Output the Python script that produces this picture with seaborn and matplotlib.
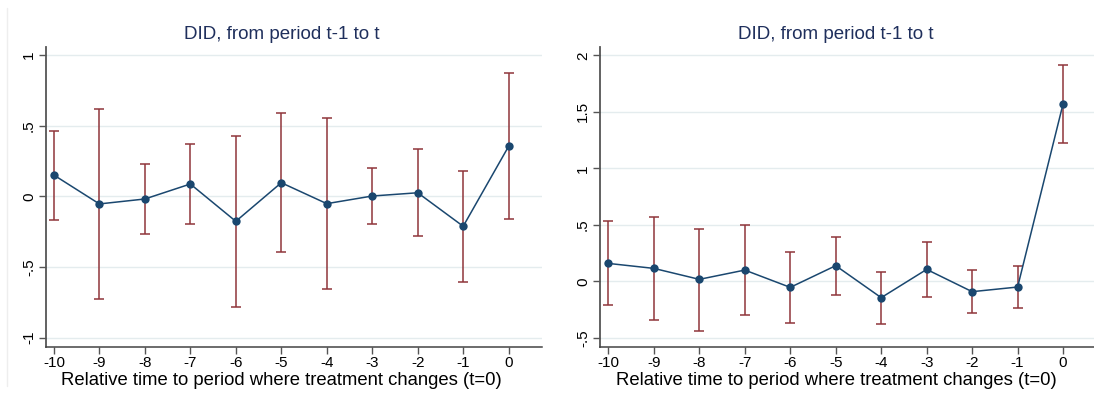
import numpy as np
import pandas as pd
import matplotlib
matplotlib.use("Agg")
import matplotlib.pyplot as plt
import seaborn as sns
from matplotlib.lines import Line2D

# relative time to treatment change
periods = [-10, -9, -8, -7, -6, -5, -4, -3, -2, -1, 0]

# left panel: point estimates and 95% CI
left_coef = [0.150, -0.054, -0.019, 0.087, -0.177, 0.096, -0.052, 0.002, 0.025, -0.212, 0.354]
left_lo = [-0.165, -0.726, -0.264, -0.196, -0.783, -0.396, -0.656, -0.194, -0.283, -0.606, -0.160]
left_hi = [0.464, 0.617, 0.226, 0.372, 0.426, 0.591, 0.551, 0.198, 0.332, 0.179, 0.870]

# right panel
right_coef = [0.159, 0.115, 0.018, 0.100, -0.053, 0.139, -0.144, 0.106, -0.091, -0.050, 1.571]
right_lo = [-0.212, -0.342, -0.439, -0.301, -0.371, -0.118, -0.374, -0.139, -0.277, -0.236, 1.226]
right_hi = [0.531, 0.572, 0.466, 0.501, 0.262, 0.395, 0.085, 0.351, 0.097, 0.139, 1.916]

left_yticks = [-1, -0.5, 0, 0.5, 1]
left_ylabels = ["-1", "-.5", "0", ".5", "1"]
right_yticks = [-0.5, 0, 0.5, 1, 1.5, 2]
right_ylabels = ["-.5", "0", ".5", "1", "1.5", "2"]

title = "DID, from period t-1 to t"
xlabel = "Relative time to period where treatment changes (t=0)"

NAVY = "#1a476f"
MAROON = "#90353b"
TITLE_C = "#1f2f5c"
GRID_C = "#e4ecee"

sns.set_style("white")
plt.rcParams["font.family"] = ["Liberation Sans", "DejaVu Sans"]

fig = plt.figure(figsize=(10.94, 3.94), dpi=100)
ax1 = fig.add_axes([0.0418, 0.120, 0.4533, 0.7614])
ax2 = fig.add_axes([0.5482, 0.120, 0.4518, 0.7614])


def draw_panel(ax, coef, lo, hi, yticks, ylabels, ylim, xlim, cx):
    df = pd.DataFrame({"t": periods, "b": coef, "lo": lo, "hi": hi})
    for y in yticks:
        ax.axhline(y, color=GRID_C, lw=1.0, zorder=0)
    ax.errorbar(df["t"], df["b"],
                yerr=[df["b"] - df["lo"], df["hi"] - df["b"]],
                fmt="none", ecolor=MAROON, elinewidth=1.1, capsize=3.5,
                capthick=1.1, zorder=2)
    sns.lineplot(data=df, x="t", y="b", ax=ax, color=NAVY, lw=1.1,
                 marker="o", markersize=6, markeredgewidth=0,
                 markerfacecolor=NAVY, zorder=3)
    ax.set_xlim(*xlim)
    ax.set_ylim(*ylim)
    ax.set_xticks(periods)
    ax.set_xticklabels([str(p) for p in periods], fontsize=11)
    ax.set_yticks(yticks)
    ax.set_yticklabels(ylabels, fontsize=11, rotation=90, va="center")
    ax.tick_params(axis="both", direction="out", length=5, width=1,
                   color="#555555", labelcolor="black", pad=2,
                   bottom=True, left=True)
    ax.set_title(title, color=TITLE_C, fontsize=13.5, pad=5.5, x=cx)
    ax.set_xlabel(xlabel, fontsize=13.3, color="black")
    ax.xaxis.set_label_coords(cx, -0.083)
    ax.set_ylabel("")
    sns.despine(ax=ax)
    ax.spines["left"].set_color("#555555")
    ax.spines["left"].set_linewidth(1.3)
    ax.spines["bottom"].set_color("#444444")
    ax.spines["bottom"].set_linewidth(1.1)


draw_panel(ax1, left_coef, left_lo, left_hi, left_yticks, left_ylabels,
           (-1.064, 1.058), (-10.18, 0.725), 0.476)
draw_panel(ax2, right_coef, right_lo, right_hi, right_yticks, right_ylabels,
           (-0.578, 2.076), (-10.19, 0.68), 0.478)

# thin panel border at the far left
fig.add_artist(Line2D([7 / 1094, 7 / 1094], [0.02, 0.98], color="#eeeeee",
                      lw=1, transform=fig.transFigure))

fig.savefig("out.png", dpi=100)
